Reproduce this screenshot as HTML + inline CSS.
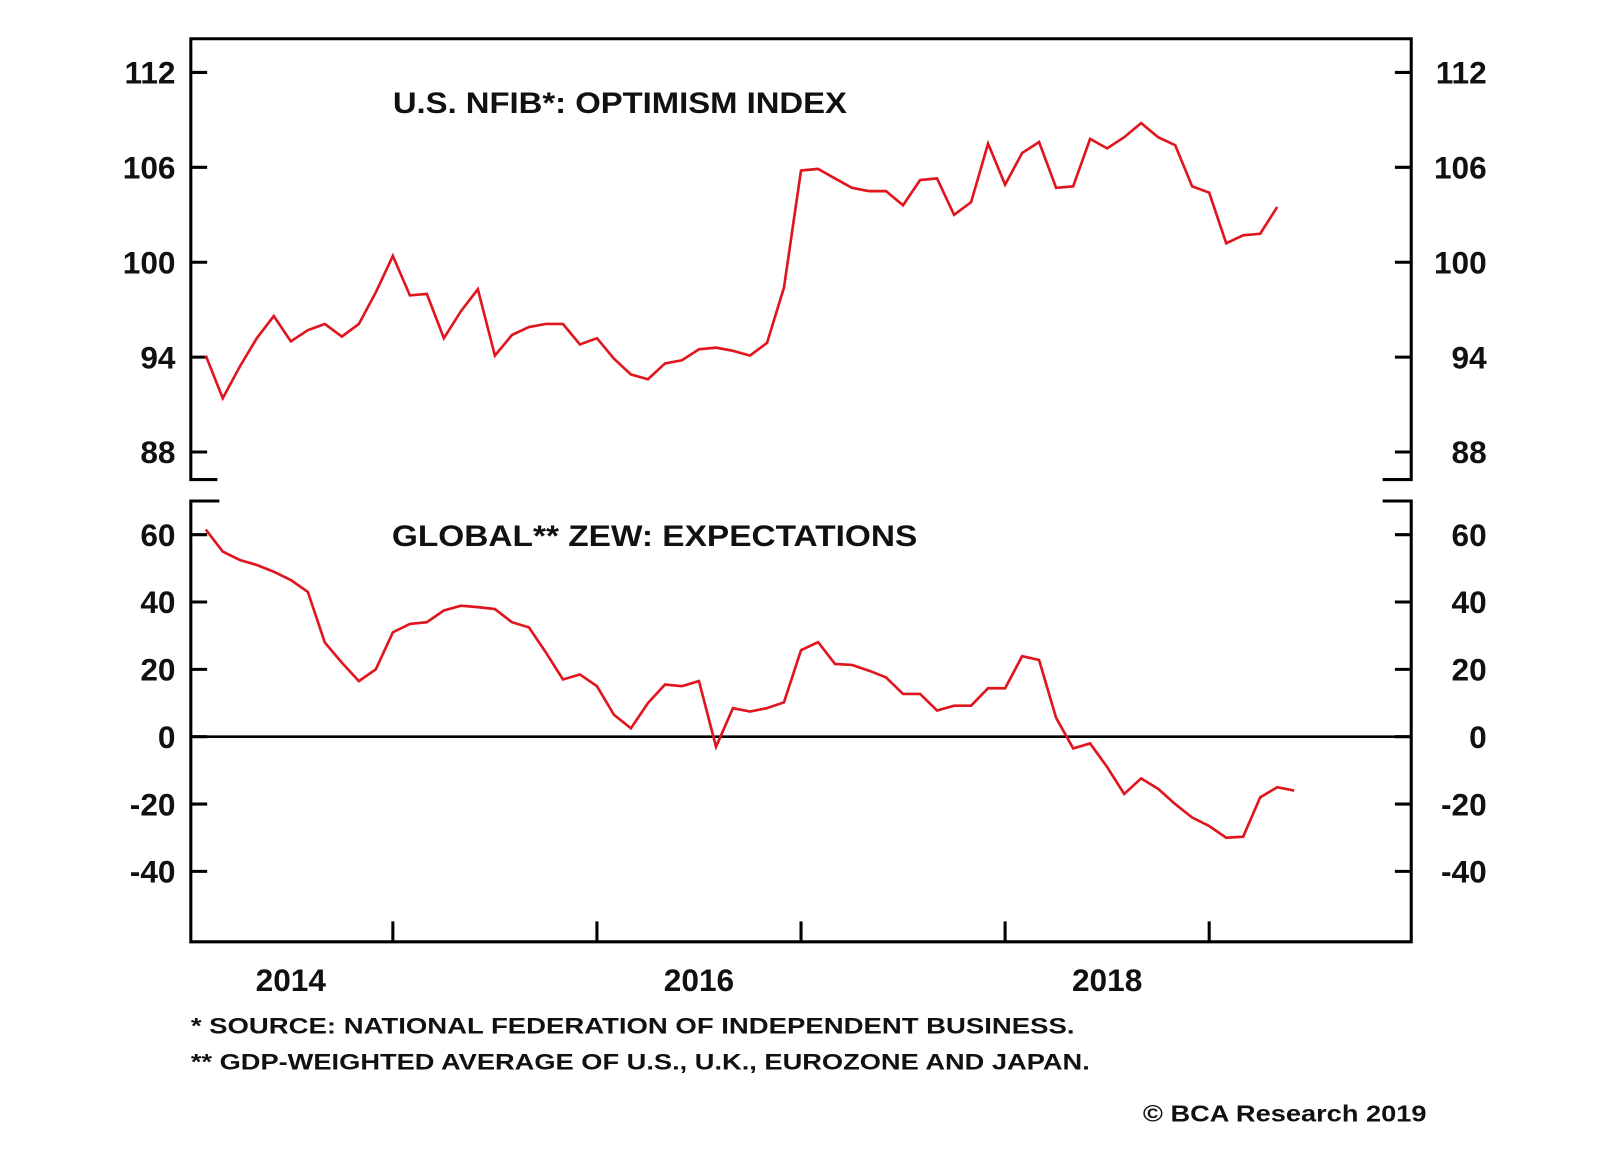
<!DOCTYPE html>
<html><head><meta charset="utf-8"><style>
body{margin:0;background:#fff;}
svg{display:block;font-family:"Liberation Sans",Arial,sans-serif;}
</style></head><body>
<svg id="chart" width="1600" height="1152" viewBox="0 0 1568 1129" preserveAspectRatio="none">
<g id="frames"></g>
<g id="axes"></g>
<g id="series"></g>
<text x="385" y="111" font-size="29" font-weight="bold" textLength="445" lengthAdjust="spacingAndGlyphs" fill="#111">U.S. NFIB*: OPTIMISM INDEX</text>
<text x="384" y="535" font-size="29" font-weight="bold" textLength="515" lengthAdjust="spacingAndGlyphs" fill="#111">GLOBAL** ZEW: EXPECTATIONS</text>
<text x="187" y="1013" font-size="22" font-weight="bold" fill="#111" textLength="866" lengthAdjust="spacingAndGlyphs">*  SOURCE: NATIONAL FEDERATION OF INDEPENDENT BUSINESS.</text>
<text x="187" y="1048" font-size="22" font-weight="bold" fill="#111" textLength="881" lengthAdjust="spacingAndGlyphs">** GDP-WEIGHTED AVERAGE OF U.S., U.K., EUROZONE AND JAPAN.</text>
<text x="1120" y="1099" font-size="23" font-weight="bold" fill="#111" textLength="278" lengthAdjust="spacingAndGlyphs">© BCA Research 2019</text>
</svg>
<script>
const nfibValues = [94.1,91.4,93.4,95.2,96.6,95.0,95.7,96.1,95.3,96.1,98.1,100.4,
97.9,98.0,95.2,96.9,98.3,94.1,95.4,95.9,96.1,96.1,94.8,95.2,
93.9,92.9,92.6,93.6,93.8,94.5,94.6,94.4,94.1,94.9,98.4,105.8,
105.9,105.3,104.7,104.5,104.5,103.6,105.2,105.3,103.0,103.8,107.5,104.9,
106.9,107.6,104.7,104.8,107.8,107.2,107.9,108.8,107.9,107.4,104.8,104.4,
101.2,101.7,101.8,103.5];
const zewValues = [61.5,55,52.5,51,49,46.5,43,28,22,16.5,20,31,
33.5,34,37.5,38.9,38.5,37.9,34,32.5,25,17,18.5,
15,6.5,2.5,10,15.5,15,16.5,-3,8.5,7.5,8.5,10.2,
25.7,28.1,21.6,21.3,19.6,17.6,12.7,12.7,7.8,9.2,9.2,14.4,
14.4,23.9,22.8,5.6,-3.5,-2,-9,-17,-12.4,-15.5,-20,-24,
-26.5,-30,-29.7,-18,-15,-16];
const startYear = 2014;
const topTicks = [112,106,100,94,88];
const bottomTicks = [60,40,20,0,-20,-40];
const yearTicks = [2015,2016,2017,2018,2019];
const yearLabels = [2014,2016,2018];

const NS='http://www.w3.org/2000/svg';
const L=187,R=1383;
function xOf(t){return 185+(t-startYear)*200;}
function xMonth(i){return xOf(startYear+(i+1)/12);}
function yTop(v){return 257-(v-100)*15.5;}
function yBot(v){return 722-v*3.3;}
function mk(tag,attrs,parent){const e=document.createElementNS(NS,tag);for(const k in attrs)e.setAttribute(k,attrs[k]);parent.appendChild(e);return e;}
const frames=document.getElementById('frames'),axes=document.getElementById('axes'),series=document.getElementById('series');
const st={stroke:'#000','stroke-width':3,fill:'none'};
let p=mk('path',Object.assign({d:`M${L+26},470 H${L} V38 H${R} V470 H${R-28}`},st),frames);


p=mk('path',Object.assign({d:`M${L+28},491 H${L} V923 H${R} V491 H${R-28}`},st),frames);


p=mk('line',{x1:L,x2:R,y1:yBot(0),y2:yBot(0),stroke:'#000','stroke-width':2.5},frames);


function ticks(vals,fy,name){
  vals.forEach(v=>{
    const y=fy(v);
    let t=mk('line',{x1:L,x2:L+16,y1:y,y2:y,stroke:'#000','stroke-width':3},axes);
    
    
    t=mk('line',{x1:R-16,x2:R,y1:y,y2:y,stroke:'#000','stroke-width':3},axes);
    
    
    let tx=mk('text',{x:172,y:y+11,'text-anchor':'end','font-size':31,'font-weight':'bold',fill:'#111'},axes);
    tx.textContent=v;
    
    
    tx=mk('text',{x:1457,y:y+11,'text-anchor':'end','font-size':31,'font-weight':'bold',fill:'#111'},axes);
    tx.textContent=v;
    
    
  });
}
ticks(topTicks,yTop,'top-axis');
ticks(bottomTicks,yBot,'bottom-axis');
yearTicks.forEach(yr=>{
  const x=xOf(yr);
  const t=mk('line',{x1:x,x2:x,y1:923,y2:903,stroke:'#000','stroke-width':3},axes);
  
  
});
yearLabels.forEach(yr=>{
  const tx=mk('text',{x:xOf(yr+0.5),y:971,'text-anchor':'middle','font-size':31,'font-weight':'bold',fill:'#111'},axes);
  tx.textContent=yr;
  
  
});
function line(vals,fy,name){
  const d=vals.map((v,i)=>(i?'L':'M')+xMonth(i).toFixed(1)+','+fy(v).toFixed(1)).join(' ');
  const e=mk('path',{d:d,stroke:'#e0161e','stroke-width':2.6,fill:'none','stroke-linejoin':'miter'},series);
  
  
}
line(nfibValues,yTop,'nfib-optimism-line');
line(zewValues,yBot,'zew-expectations-line');
</script>
</body></html>
